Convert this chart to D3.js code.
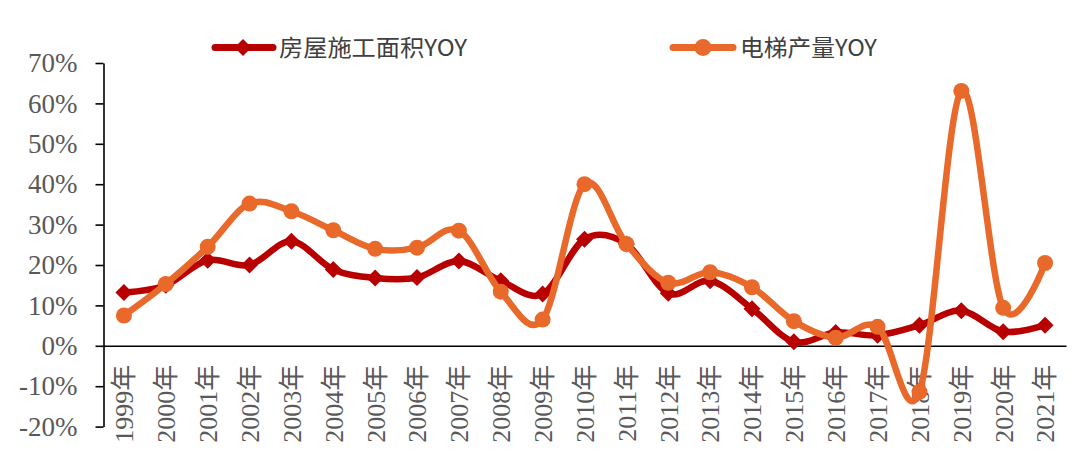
<!DOCTYPE html>
<html>
<head>
<meta charset="utf-8">
<script src="https://cdn.jsdelivr.net/npm/d3@7"></script>
<style>
  html, body { margin: 0; padding: 0; background: #ffffff; }
  svg { display: block; }
</style>
</head>
<body>
<svg id="chart" width="1080" height="470"></svg>
<script>
const categories = ["1999年","2000年","2001年","2002年","2003年","2004年","2005年","2006年","2007年","2008年","2009年","2010年","2011年","2012年","2013年","2014年","2015年","2016年","2017年","2018年","2019年","2020年","2021年"];
const constructionYoY = [13.2, 15.0, 21.2, 20.0, 25.9, 18.9, 16.8, 16.9, 21.0, 16.1, 12.8, 26.4, 25.2, 13.0, 16.1, 9.2, 1.0, 3.3, 2.6, 5.1, 8.7, 3.5, 5.1];
const elevatorYoY = [7.5, 15.3, 24.5, 35.2, 33.3, 28.6, 24.0, 24.3, 28.5, 13.4, 6.5, 40.0, 25.2, 15.6, 18.2, 14.5, 6.1, 2.0, 4.7, -11.4, 63.1, 9.4, 20.5];
const seriesNames = ["房屋施工面积YOY", "电梯产量YOY"];
const yTicks = [-20, -10, 0, 10, 20, 30, 40, 50, 60, 70];

const RED = "#B80000";
const ORANGE = "#E8692A";
const GRAY = "#595959";

const svg = d3.select("#chart");
const x = d3.scaleBand().domain(categories).range([103, 1066]).padding(0);
const y = d3.scaleLinear().domain([-20, 70]).range([426.6, 63]);
const cx = d => x(d) + x.bandwidth() / 2;

// Y axis
const yAxis = svg.append("g").attr("transform", "translate(103.5,0)")
  .call(d3.axisLeft(y).tickValues(yTicks).tickSize(8).tickSizeOuter(0).tickPadding(18)
    .tickFormat(d => d + "%"));
yAxis.select(".domain").attr("stroke", "#000").attr("stroke-width", 1.6);
yAxis.selectAll(".tick line").attr("stroke", "#000").attr("stroke-width", 1.6);
yAxis.selectAll("text").attr("fill", GRAY)
  .style("font-family", "'Liberation Serif', 'Times New Roman', serif")
  .style("font-size", "27px");

// X axis at zero
const xAxis = svg.append("g").attr("transform", `translate(0,${y(0)})`)
  .call(d3.axisBottom(x).tickSize(0).tickSizeOuter(0));
xAxis.select(".domain").attr("stroke", "#000").attr("stroke-width", 1.6);
xAxis.selectAll("text")
  .attr("fill", GRAY)
  .attr("y", 0).attr("x", -19).attr("dy", "0.36em")
  .attr("transform", "rotate(-90)")
  .style("text-anchor", "end")
  .style("font-family", "'Liberation Serif', 'Noto Sans CJK SC', serif")
  .style("font-size", "26px");

const line = d3.line().x((d, i) => cx(categories[i])).y(d => y(d)).curve(d3.curveCardinal.tension(0));

function diamond(px, py, r) {
  return `M${px},${py - r}L${px + r},${py}L${px},${py + r}L${px - r},${py}Z`;
}

// Red series
svg.append("path").datum(constructionYoY).attr("d", line)
  .attr("fill", "none").attr("stroke", RED).attr("stroke-width", 6.5).attr("stroke-linejoin", "round");
svg.append("g").selectAll("path").data(constructionYoY).join("path")
  .attr("d", (d, i) => diamond(cx(categories[i]), y(d), 8.5))
  .attr("fill", RED);

// Orange series
svg.append("path").datum(elevatorYoY).attr("d", line)
  .attr("fill", "none").attr("stroke", ORANGE).attr("stroke-width", 6.5).attr("stroke-linejoin", "round");
svg.append("g").selectAll("circle").data(elevatorYoY).join("circle")
  .attr("cx", (d, i) => cx(categories[i])).attr("cy", d => y(d)).attr("r", 8)
  .attr("fill", ORANGE);

// Legend
const legendY = 47.5;
const lg = svg.append("g");
lg.append("line").attr("x1", 215).attr("x2", 273).attr("y1", legendY).attr("y2", legendY)
  .attr("stroke", RED).attr("stroke-width", 7).attr("stroke-linecap", "round");
lg.append("path").attr("d", diamond(243, legendY, 8.5)).attr("fill", RED);
lg.append("text").attr("x", 279).attr("y", legendY).attr("dy", "0.36em")
  .attr("fill", "#404040").attr("textLength", 188).attr("lengthAdjust", "spacingAndGlyphs")
  .style("font-family", "'Noto Sans CJK SC', sans-serif").style("font-size", "23px")
  .text(seriesNames[0]);

lg.append("line").attr("x1", 673).attr("x2", 733).attr("y1", legendY).attr("y2", legendY)
  .attr("stroke", ORANGE).attr("stroke-width", 7).attr("stroke-linecap", "round");
lg.append("circle").attr("cx", 703).attr("cy", legendY).attr("r", 8.5).attr("fill", ORANGE);
lg.append("text").attr("x", 740).attr("y", legendY).attr("dy", "0.36em")
  .attr("fill", "#404040").attr("textLength", 137).attr("lengthAdjust", "spacingAndGlyphs")
  .style("font-family", "'Noto Sans CJK SC', sans-serif").style("font-size", "23px")
  .text(seriesNames[1]);
</script>
</body>
</html>
